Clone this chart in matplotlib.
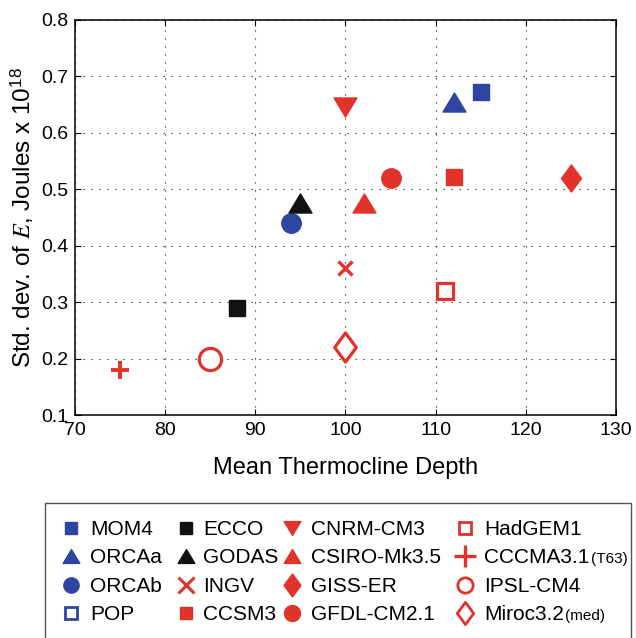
import matplotlib
matplotlib.use("Agg")
import matplotlib.pyplot as plt
import numpy as np
from matplotlib.lines import Line2D
from matplotlib.patches import Rectangle
from matplotlib.path import Path

plt.rcParams['font.family'] = ['Liberation Sans', 'DejaVu Sans']
plt.rcParams['mathtext.fontset'] = 'stix'

# ---------------- data ----------------
models = ["MOM4", "ORCAa", "ORCAb", "POP",
          "ECCO", "GODAS", "INGV", "CCSM3",
          "CNRM-CM3", "CSIRO-Mk3.5", "GISS-ER", "GFDL-CM2.1",
          "HadGEM1", "CCCMA3.1", "IPSL-CM4", "Miroc3.2"]
label_suffix = {"CCCMA3.1": "(T63)", "Miroc3.2": "(med)"}
depth = [115, 112, 94, np.nan,
         88, 95, 100, 112,
         100, 102, 125, 105,
         111, 75, 85, 100]
stdev = [0.673, 0.655, 0.44, np.nan,
         0.29, 0.475, 0.36, 0.522,
         0.645, 0.475, 0.52, 0.52,
         0.32, 0.18, 0.20, 0.22]
xticks = [70, 80, 90, 100, 110, 120, 130]
yticks = [0.1, 0.2, 0.3, 0.4, 0.5, 0.6, 0.7, 0.8]

# ---------------- styles ----------------
BLUE = '#2E45A1'
RED = '#E1332A'
BLACK = '#111111'
TRI_UP = Path([(0, 0.83), (-1, -0.83), (1, -0.83), (0, 0.83)], closed=True)
TRI_DN = Path([(0, -0.83), (-1, 0.83), (1, 0.83), (0, -0.83)], closed=True)
DIAM = Path([(0, 1), (0.74, 0), (0, -1), (-0.74, 0), (0, 1)], closed=True)

# color, marker, filled, plot size, plot edge width, legend size, legend edge width
style = {
    "MOM4":        (BLUE,  's',    True,  11.5, 1.0, 8.5, 1.0),
    "ORCAa":       (BLUE,  TRI_UP, True,  16.5, 1.0, 12,  1.0),
    "ORCAb":       (BLUE,  'o',    True,  14.0, 1.0, 11,  1.0),
    "POP":         (BLUE,  's',    False, 12.0, 2.2, 9,   2.0),
    "ECCO":        (BLACK, 's',    True,  11.0, 1.0, 8.5, 1.0),
    "GODAS":       (BLACK, TRI_UP, True,  16.5, 1.0, 12,  1.0),
    "INGV":        (RED,   'x',    True,  10.0, 2.4, 11.5, 2.2),
    "CCSM3":       (RED,   's',    True,  11.0, 1.0, 8.5, 1.0),
    "CNRM-CM3":    (RED,   TRI_DN, True,  16.5, 1.0, 12,  1.0),
    "CSIRO-Mk3.5": (RED,   TRI_UP, True,  16.5, 1.0, 12,  1.0),
    "GISS-ER":     (RED,   DIAM,   True,  19.5, 1.0, 16.5, 1.0),
    "GFDL-CM2.1":  (RED,   'o',    True,  14.0, 1.0, 11.5, 1.0),
    "HadGEM1":     (RED,   's',    False, 12.0, 2.3, 9,   2.0),
    "CCCMA3.1":    (RED,   '+',    True,  13.5, 2.8, 16,  2.4),
    "IPSL-CM4":    (RED,   'o',    False, 16.0, 2.3, 11,  2.0),
    "Miroc3.2":    (RED,   DIAM,   False, 21.0, 2.3, 16,  2.0),
}

fig = plt.figure(figsize=(6.36, 6.38), dpi=100)
W, H = 636.0, 638.0
ax = fig.add_axes([75 / W, 1 - 415 / H, 541 / W, 395 / H])

for name, xv, yv in zip(models, depth, stdev):
    if np.isnan(xv):
        continue
    c, m, filled, ms, mew, _, _ = style[name]
    ax.plot([xv], [yv], linestyle='none', marker=m, markersize=ms,
            markerfacecolor=(c if filled else 'white'), markeredgecolor=c,
            markeredgewidth=mew, zorder=3)

ax.set_xlim(70, 130)
ax.set_ylim(0.1, 0.8)
ax.set_xticks(xticks)
ax.set_yticks(yticks)
ax.set_xticklabels([str(t) for t in xticks])
ax.set_yticklabels(["%.1f" % t for t in yticks])
ax.tick_params(direction='in', length=4, width=0.8, top=True, right=True,
               labelsize=14, pad=5, colors='black')
ax.grid(True, color='#333333', linestyle=(0, (1.2, 6)), linewidth=0.8)
ax.set_axisbelow(True)
for sp in ax.spines.values():
    sp.set_linewidth(1.1)
    sp.set_color('black')

ax.set_xlabel('Mean Thermocline Depth', fontsize=17, labelpad=13)
ax.set_ylabel('Std. dev. of $E$, Joules x 10$^{\\mathregular{18}}$', fontsize=17.5, labelpad=3.5)

# ---------------- legend ----------------
handles = []
for name in models:
    c, m, filled, _, _, lms, lmew = style[name]
    handles.append(Line2D([], [], linestyle='none', marker=m, markersize=lms,
                          markerfacecolor=(c if filled else 'white'),
                          markeredgecolor=c, markeredgewidth=lmew))

box = Rectangle((45 / W, -0.01), (631 - 45) / W, (1 - 503 / H) + 0.01,
                transform=fig.transFigure, facecolor='white',
                edgecolor='#555555', linewidth=1.0)
fig.patches.append(box)

# per-column layout: left x (px), text pad
col_x = [60.6, 175.6, 281.6, 454.6]
col_pad = [0.41, 0.32, 0.41, 0.41]
LEG_FS = 15
legs = []
for ci in range(4):
    hs = handles[ci * 4:(ci + 1) * 4]
    ls = models[ci * 4:(ci + 1) * 4]
    lg = fig.legend(hs, ls, loc='upper left',
                    bbox_to_anchor=(col_x[ci] / W, 1 - 520 / H),
                    frameon=False, fontsize=LEG_FS, handlelength=1.0,
                    handletextpad=col_pad[ci], labelspacing=0.452,
                    borderpad=0, borderaxespad=0)
    legs.append(lg)

fig.canvas.draw()
renderer = fig.canvas.get_renderer()
inv = fig.transFigure.inverted()
for lg in legs:
    for t in lg.get_texts():
        s = t.get_text()
        if s in label_suffix:
            bb = t.get_window_extent(renderer)
            x0, y0 = inv.transform((bb.x1 + 1.5, bb.y0 + 4.3))
            fig.text(x0, y0, label_suffix[s], fontsize=11, va='baseline', ha='left')

fig.savefig('out.png', dpi=100)
